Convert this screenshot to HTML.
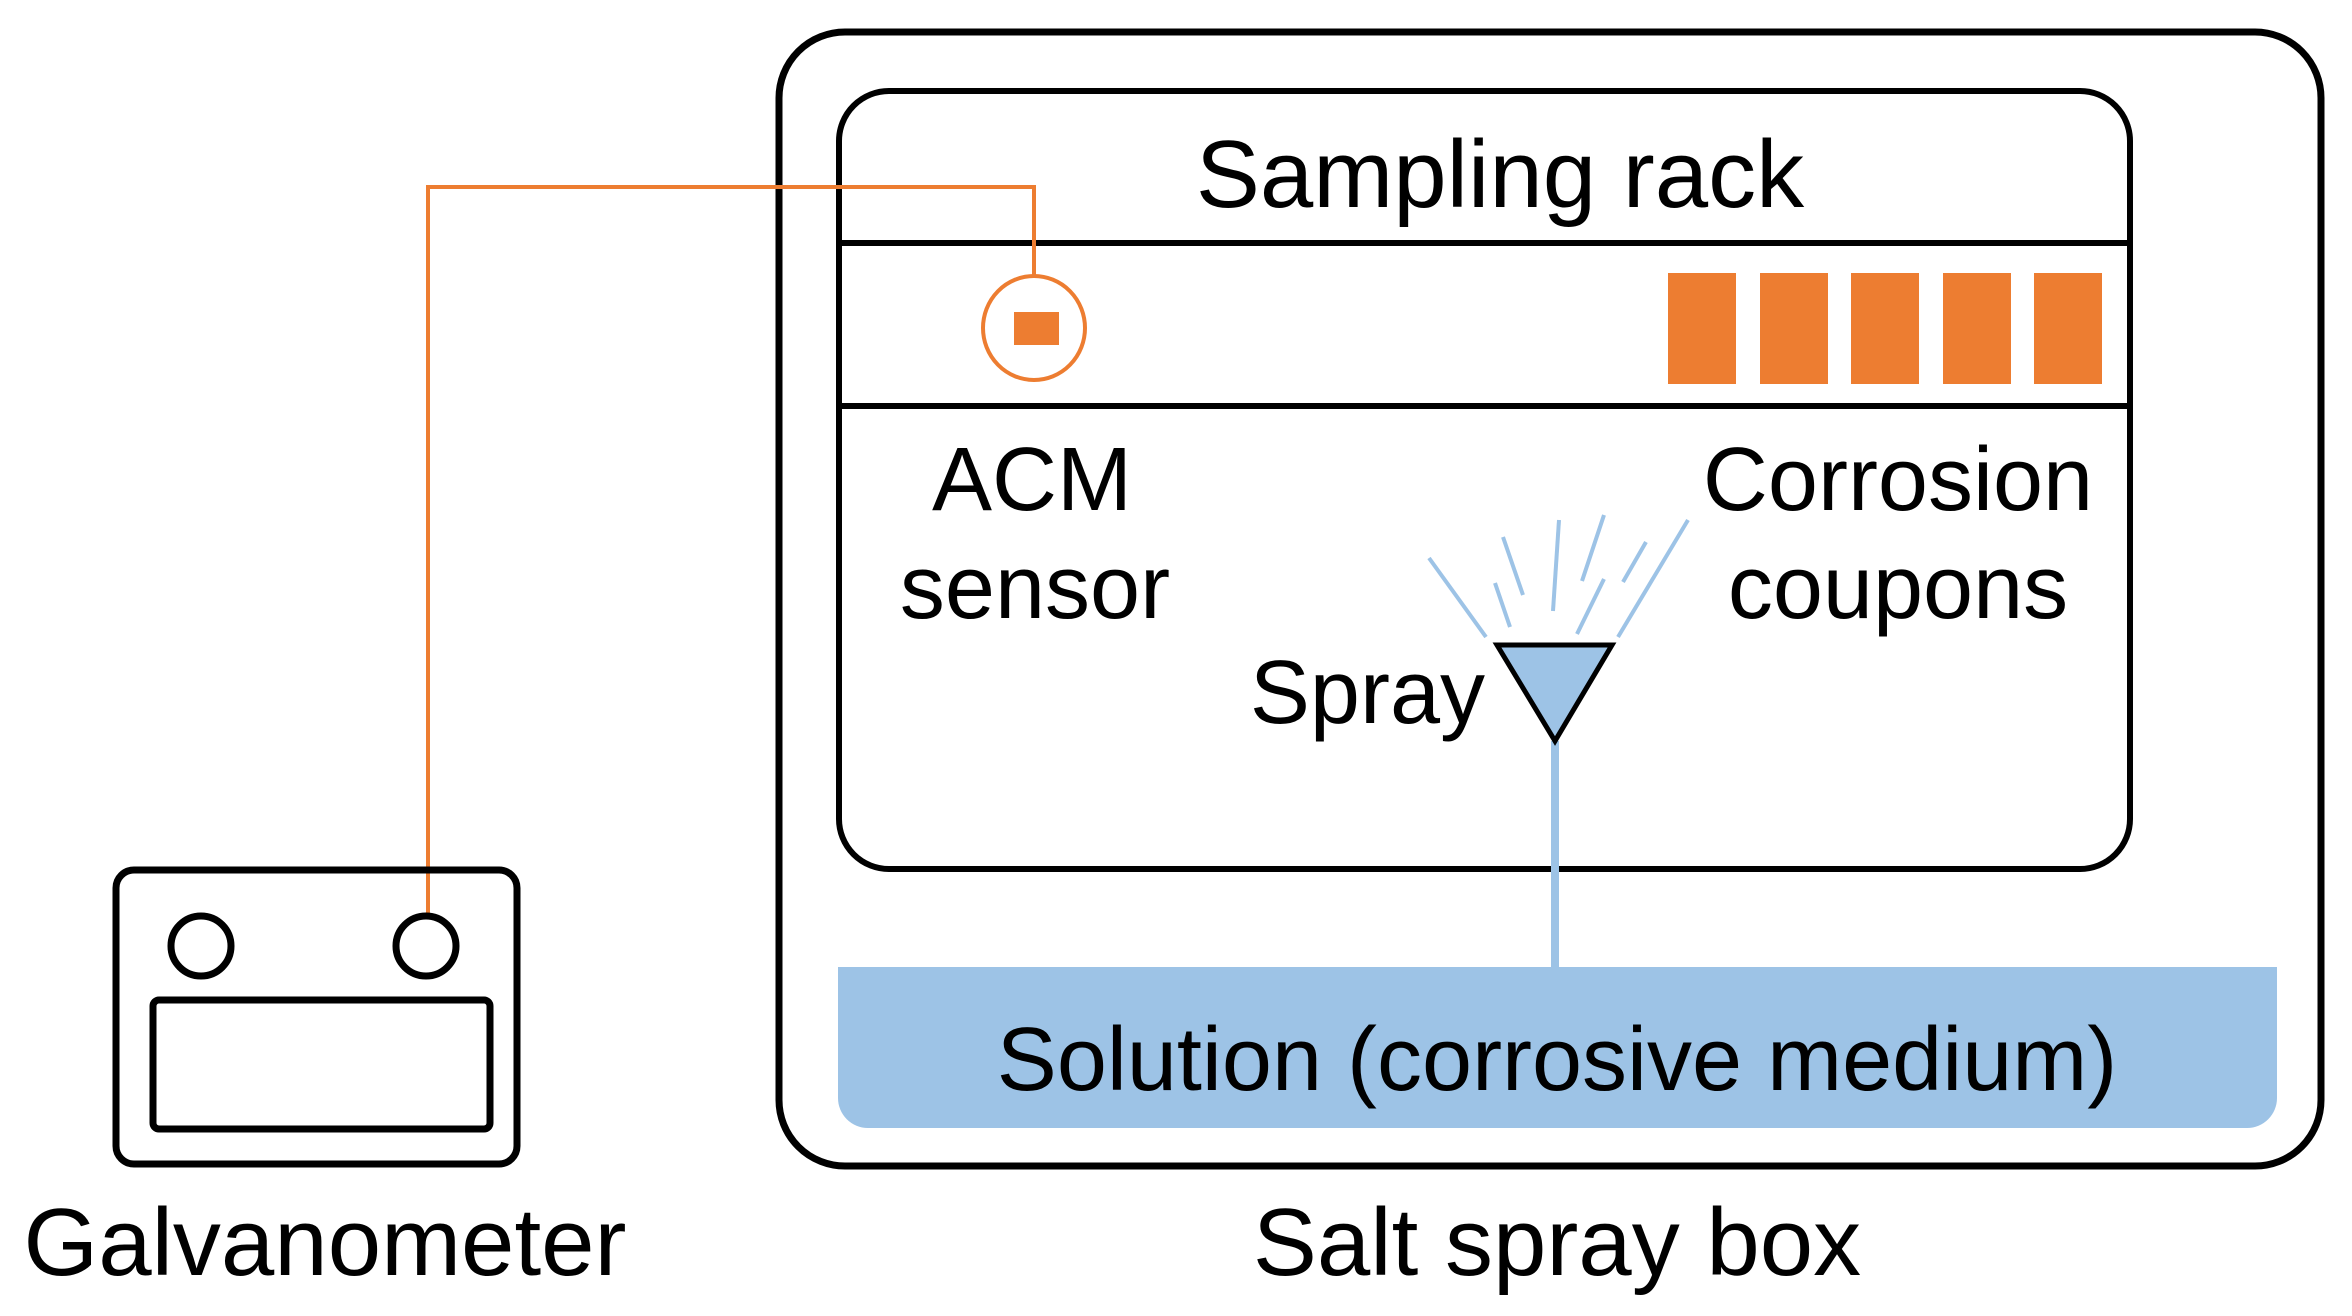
<!DOCTYPE html>
<html><head><meta charset="utf-8"><style>html,body{margin:0;padding:0;background:#fff}svg{display:block}</style></head>
<body>
<svg width="2352" height="1316" viewBox="0 0 2352 1316" xmlns="http://www.w3.org/2000/svg" font-family="'Liberation Sans', sans-serif">
<rect x="779" y="32" width="1542" height="1134" rx="66" fill="none" stroke="#000" stroke-width="7"/>
<rect x="839" y="91" width="1291" height="778" rx="50" fill="none" stroke="#000" stroke-width="6"/>
<line x1="839" y1="243" x2="2130" y2="243" stroke="#000" stroke-width="6"/>
<line x1="839" y1="406" x2="2130" y2="406" stroke="#000" stroke-width="6"/>
<text x="1500" y="207" font-size="96" text-anchor="middle">Sampling rack</text>
<polyline points="428,917 428,187 1034,187 1034,276" fill="none" stroke="#ED7D31" stroke-width="4"/>
<ellipse cx="1034" cy="328" rx="51" ry="52" fill="none" stroke="#ED7D31" stroke-width="4"/>
<rect x="1014" y="312" width="45" height="33" fill="#ED7D31"/>
<g fill="#ED7D31">
<rect x="1668" y="273" width="68" height="111"/><rect x="1760" y="273" width="68" height="111"/><rect x="1851" y="273" width="68" height="111"/><rect x="1943" y="273" width="68" height="111"/><rect x="2034" y="273" width="68" height="111"/>
</g>
<g font-size="90" text-anchor="middle">
<text x="1032" y="510">ACM</text><text x="1035" y="618">sensor</text>
<text x="1898" y="510">Corrosion</text><text x="1898" y="618">coupons</text>
<text x="1485" y="723" text-anchor="end">Spray</text>
</g>
<g stroke="#9DC3E6" stroke-width="4">
<line x1="1429" y1="558" x2="1486" y2="637"/><line x1="1503" y1="537" x2="1523" y2="595"/><line x1="1495" y1="583" x2="1510" y2="627"/><line x1="1559" y1="520" x2="1553" y2="611"/><line x1="1604" y1="515" x2="1582" y2="581"/><line x1="1604" y1="579" x2="1577" y2="634"/><line x1="1646" y1="542" x2="1623" y2="582"/><line x1="1688" y1="520" x2="1618" y2="637"/>
</g>
<line x1="1555" y1="741" x2="1555" y2="970" stroke="#9DC3E6" stroke-width="8"/>
<polygon points="1497,645 1612,645 1555,741" fill="#9DC3E6" stroke="#000" stroke-width="5" stroke-linejoin="miter"/>
<path d="M838,967 H2277 V1098 a30,30 0 0 1 -30,30 H868 a30,30 0 0 1 -30,-30 Z" fill="#9DC3E6"/>
<text x="1557" y="1090" font-size="90" text-anchor="middle">Solution (corrosive medium)</text>
<rect x="116" y="870" width="401" height="294" rx="18" fill="none" stroke="#000" stroke-width="7"/>
<circle cx="201" cy="946" r="30" fill="none" stroke="#000" stroke-width="7"/>
<circle cx="426" cy="946" r="30" fill="none" stroke="#000" stroke-width="7"/>
<rect x="153" y="1000" width="337" height="129" rx="6" fill="none" stroke="#000" stroke-width="7"/>
<g font-size="96" text-anchor="middle">
<text x="325" y="1275">Galvanometer</text>
<text x="1557" y="1275">Salt spray box</text>
</g>
</svg>
</body></html>
